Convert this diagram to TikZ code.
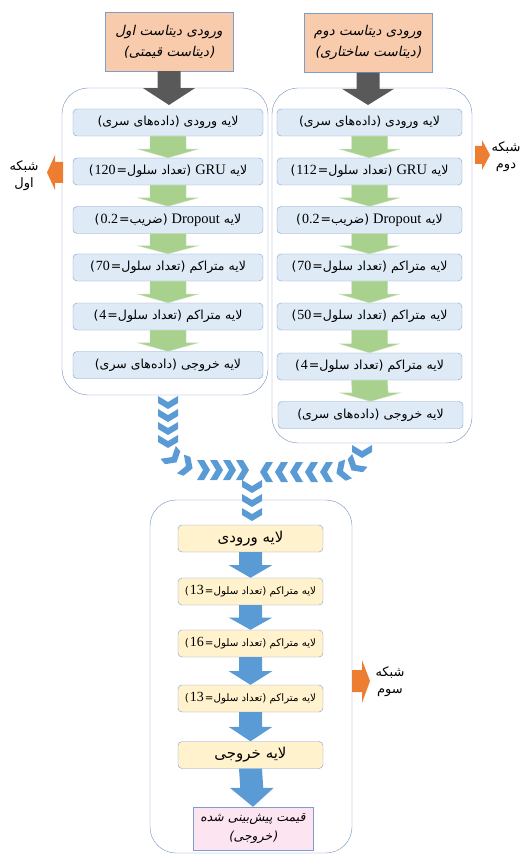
\documentclass[tikz,border=0pt]{standalone}
\usepackage{fontspec}
\setmainfont{Liberation Serif}
\newfontfamily\fa[Script=Arabic]{DejaVu Sans}
\newfontfamily\faslant[Script=Arabic,FakeSlant=0.2]{DejaVu Sans}
\TeXXeTstate=1
\usetikzlibrary{calc}

\definecolor{inputfill}{HTML}{F8CBAD}
\definecolor{boxline}{HTML}{7F9DCB}
\definecolor{layerfill}{HTML}{DEEBF7}
\definecolor{panelline}{HTML}{6F8FBF}
\definecolor{densefill}{HTML}{FFF2CC}
\definecolor{outfill}{HTML}{FCE4F0}
\definecolor{arrgreen}{HTML}{A9D18E}
\definecolor{arrgreenline}{HTML}{C5E0B4}
\definecolor{arrblue}{HTML}{5B9BD5}
\definecolor{arrdark}{HTML}{595959}
\definecolor{arrorange}{HTML}{ED7D31}

% latin word / number inside right-to-left text
\newcommand{\en}[1]{\beginL{\rmfamily\fontsize{14.5}{14.5}\selectfont #1}\endL}
\newcommand{\num}[1]{\kern1pt\beginL{\rmfamily\fontsize{14}{14}\selectfont #1}\endL\kern1pt}
% block arrow pointing down: style, from, to, body half, head half, head start
\newcommand{\blockdown}[6]{%
  \fill[#1] ($(#2)+(-#4,0)$) -- ($(#2)+(#4,0)$) -- ($(#2)!#6!(#3)+(#4,0)$)
    -- ($(#2)!#6!(#3)+(#5,0)$) -- (#3) -- ($(#2)!#6!(#3)+(-#5,0)$)
    -- ($(#2)!#6!(#3)+(-#4,0)$) -- cycle;}

\begin{document}
\begin{tikzpicture}[x=1pt,y=-1pt,
    inbox/.style={draw=boxline, fill=inputfill, minimum width=128pt, minimum height=59pt,
      inner sep=0pt, align=center, font=\faslant\fontsize{13.5}{21}\selectfont},
    layer/.style={draw=boxline, fill=layerfill, rounded corners=4pt, minimum width=190pt,
      minimum height=27pt, inner sep=0pt, font=\fa\fontsize{12.5}{14}\selectfont},
    dense/.style={draw=boxline, fill=densefill, rounded corners=4pt, minimum width=145pt,
      minimum height=27pt, inner sep=0pt, font=\fa\fontsize{10.3}{13}\selectfont},
    outbox/.style={draw=boxline, fill=outfill, minimum width=120pt, minimum height=43pt,
      inner sep=0pt, align=center, font=\faslant\fontsize{12.5}{19}\selectfont},
    panel/.style={draw=panelline, rounded corners=26pt},
    netlabel/.style={align=center, font=\fa\fontsize{13}{17}\selectfont},
    greenarr/.style={fill=arrgreen, draw=arrgreenline},
    bluearr/.style={fill=arrblue},
    darkarr/.style={fill=arrdark},
    orangearr/.style={fill=arrorange},
    chev/.pic={\fill[arrblue] (-6,-10) -- (1,-10) -- (7,0) -- (1,10) -- (-6,10) -- (0,0) -- cycle;}
  ]
  \useasboundingbox (0,0) rectangle (519,858);

  % panels
  \draw[panel] (62,88) rectangle (268,395);
  \draw[panel] (272,88) rectangle (472,443);
  \draw[panel] (150,500) rectangle (352,853);

  % inputs
  \node[inbox] (inA) at (169,41.5) {\beginR ورودی دیتاست اول\endR\\\beginR (دیتاست قیمتی)\endR};
  \node[inbox] (inB) at (368,43) {\beginR ورودی دیتاست دوم\endR\\\beginR (دیتاست ساختاری)\endR};

  % first network
  \node[layer] (a1) at (168,122.5) {\beginR لایه ورودی (داده^^^^200cهای سری)\endR};
  \node[layer] (a2) at (168,171.5) {\beginR لایه \en{GRU} (تعداد سلول=\num{120}^^^^200f)\endR};
  \node[layer] (a3) at (168,220) {\beginR لایه \en{Dropout} (ضریب=\num{0.2}^^^^200f)\endR};
  \node[layer] (a4) at (168,267.5) {\beginR لایه متراکم (تعداد سلول=\num{70}^^^^200f)\endR};
  \node[layer] (a5) at (168,316.5) {\beginR لایه متراکم (تعداد سلول=\num{4}^^^^200f)\endR};
  \node[layer] (a6) at (168,365) {\beginR لایه خروجی (داده^^^^200cهای سری)\endR};

  % second network
  \node[layer, minimum width=185pt] (b1) at (369.5,122.5) {\beginR لایه ورودی (داده^^^^200cهای سری)\endR};
  \node[layer, minimum width=185pt] (b2) at (369.5,171.5) {\beginR لایه \en{GRU} (تعداد سلول=\num{112}^^^^200f)\endR};
  \node[layer, minimum width=185pt] (b3) at (369.5,220) {\beginR لایه \en{Dropout} (ضریب=\num{0.2}^^^^200f)\endR};
  \node[layer, minimum width=185pt] (b4) at (369.5,267.5) {\beginR لایه متراکم (تعداد سلول=\num{70}^^^^200f)\endR};
  \node[layer, minimum width=185pt] (b5) at (369.5,316.5) {\beginR لایه متراکم (تعداد سلول=\num{50}^^^^200f)\endR};
  \node[layer, minimum width=185pt] (b6) at (369.5,366.5) {\beginR لایه متراکم (تعداد سلول=\num{4}^^^^200f)\endR};
  \node[layer, minimum width=185pt] (b7) at (370.5,415) {\beginR لایه خروجی (داده^^^^200cهای سری)\endR};

  % third network
  \node[dense, font=\fa\fontsize{15}{16}\selectfont] (c1) at (250.5,538.5) {\beginR لایه ورودی\endR};
  \node[dense] (c2) at (250.5,591.5) {\beginR لایه متراکم (تعداد سلول=\num{13}^^^^200f)\endR};
  \node[dense] (c3) at (250.5,643.5) {\beginR لایه متراکم (تعداد سلول=\num{16}^^^^200f)\endR};
  \node[dense] (c4) at (250.5,698.5) {\beginR لایه متراکم (تعداد سلول=\num{13}^^^^200f)\endR};
  \node[dense, font=\fa\fontsize{15}{16}\selectfont] (c5) at (250.5,755) {\beginR لایه خروجی\endR};
  \node[outbox] (out) at (253,828.5) {\beginR قیمت پیش^^^^200cبینی شده\endR\\\beginR (خروجی)\endR};

  % labels
  \node[netlabel] (labA) at (24,176) {\beginR شبکه\endR\\\beginR اول\endR};
  \node[netlabel] (labB) at (506,157) {\beginR شبکه\endR\\\beginR دوم\endR};
  \node[netlabel] (labC) at (390,682) {\beginR شبکه\endR\\\beginR سوم\endR};
  \fill[orangearr] (63,162) -- (55,162) -- (55,155) -- (47,172.5) -- (55,190) -- (55,183) -- (63,183) -- cycle;
  \fill[orangearr] (475,146) -- (482,146) -- (482,140) -- (490,155) -- (482,170) -- (482,164) -- (475,164) -- cycle;
  \fill[orangearr] (352,670) -- (362,670) -- (362,660) -- (370,681) -- (362,703) -- (362,692) -- (352,692) -- cycle;

  % arrows into the networks
  \coordinate (tipA) at (169,105);
  \coordinate (tipB) at (368,105);
  \blockdown{darkarr}{inA.south}{tipA}{11.5}{26}{0.5}
  \blockdown{darkarr}{inB.south}{tipB}{11.5}{26}{0.5}

  \foreach \p/\q in {a1/a2,a2/a3,a3/a4,a4/a5,a5/a6,b1/b2,b2/b3,b3/b4,b4/b5,b5/b6,b6/b7}
    {\blockdown{greenarr}{\p.south}{\q.north}{18}{30}{0.6}}
  \foreach \p/\q in {c1/c2,c2/c3,c3/c4,c4/c5,c5/out}
    {\blockdown{bluearr}{\p.south}{\q.north}{11.5}{22}{0.5}}

  % chevrons joining the two outputs
  \foreach \y in {402,415,428,441} \pic[rotate=-90] at (168,\y) {chev};
  \pic[rotate=-50] at (172,457) {chev};
  \pic[rotate=-20] at (186,466) {chev};
  \foreach \x in {203,216,229,242} \pic at (\x,470) {chev};
  \pic[rotate=-90] at (362,451) {chev};
  \pic[rotate=-130] at (356,465) {chev};
  \pic[rotate=-160] at (343,471) {chev};
  \foreach \x in {267,282,297,312,327} \pic[rotate=180] at (\x,472) {chev};
  \foreach \y in {486,500,514} \pic[rotate=-90] at (252,\y) {chev};
\end{tikzpicture}
\end{document}
